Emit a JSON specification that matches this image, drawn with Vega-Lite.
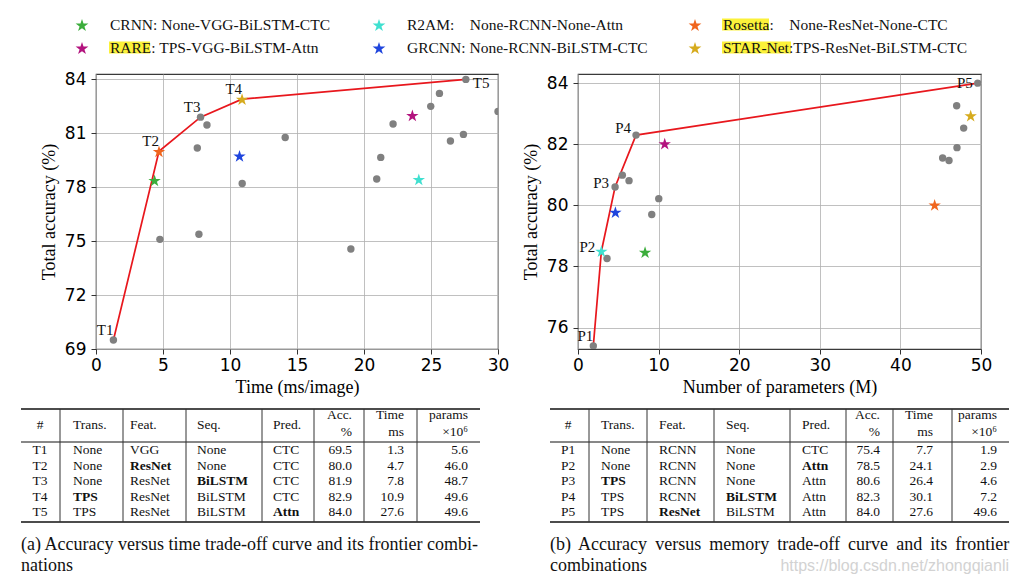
{
"$schema": "https://vega.github.io/schema/vega-lite/v6.json",
"padding": {"left": 20, "top": 8, "right": 7, "bottom": 4},
"background": "white",
"columns": 2,
"align": "none",
"bounds": "flush",
"spacing": {"row": 0, "column": 80},
"config": {
  "view": {"stroke": null},
  "font": "Liberation Serif",
  "axis": {"labelFont": "DejaVu Sans", "labelFontSize": 17, "labelColor": "#000", "titleFont": "Liberation Serif", "titleFontSize": 18, "titleFontWeight": "normal", "titleColor": "#000", "gridColor": "#b0b0b0", "gridWidth": 0.8, "gridOpacity": 1, "domain": false, "tickColor": "#333", "tickSize": 5, "tickWidth": 1, "labelFlush": false, "labelOverlap": false, "labelBound": false},
  "axisX": {"labelPadding": 3, "titlePadding": 5},
  "axisY": {"labelPadding": 5, "titlePadding": 6}
},
"datasets": {
  "lg": [
    {"model": "CRNN", "label": "CRNN: None-VGG-BiLSTM-CTC", "col": 1, "row": 1},
    {"model": "RARE", "label": "RARE: TPS-VGG-BiLSTM-Attn", "col": 1, "row": 2},
    {"model": "R2AM", "label": "R2AM:\u00a0\u00a0\u00a0\u00a0None-RCNN-None-Attn", "col": 2, "row": 1},
    {"model": "GRCNN", "label": "GRCNN: None-RCNN-BiLSTM-CTC", "col": 2, "row": 2},
    {"model": "Rosetta", "label": "Rosetta:\u00a0\u00a0\u00a0\u00a0None-ResNet-None-CTC", "col": 3, "row": 1},
    {"model": "STAR-Net", "label": "STAR-Net:TPS-ResNet-BiLSTM-CTC", "col": 3, "row": 2}
  ],
  "tA": [
    {"id": "T1", "trans": "None", "feat": "VGG", "seq": "None", "pred": "CTC", "acc": 69.5, "time": 1.3, "params": 5.6, "bold": ""},
    {"id": "T2", "trans": "None", "feat": "ResNet", "seq": "None", "pred": "CTC", "acc": 80.0, "time": 4.7, "params": 46.0, "bold": "feat"},
    {"id": "T3", "trans": "None", "feat": "ResNet", "seq": "BiLSTM", "pred": "CTC", "acc": 81.9, "time": 7.8, "params": 48.7, "bold": "seq"},
    {"id": "T4", "trans": "TPS", "feat": "ResNet", "seq": "BiLSTM", "pred": "CTC", "acc": 82.9, "time": 10.9, "params": 49.6, "bold": "trans"},
    {"id": "T5", "trans": "TPS", "feat": "ResNet", "seq": "BiLSTM", "pred": "Attn", "acc": 84.0, "time": 27.6, "params": 49.6, "bold": "pred"}
  ],
  "tB": [
    {"id": "P1", "trans": "None", "feat": "RCNN", "seq": "None", "pred": "CTC", "acc": 75.4, "time": 7.7, "params": 1.9, "bold": ""},
    {"id": "P2", "trans": "None", "feat": "RCNN", "seq": "None", "pred": "Attn", "acc": 78.5, "time": 24.1, "params": 2.9, "bold": "pred"},
    {"id": "P3", "trans": "TPS", "feat": "RCNN", "seq": "None", "pred": "Attn", "acc": 80.6, "time": 26.4, "params": 4.6, "bold": "trans"},
    {"id": "P4", "trans": "TPS", "feat": "RCNN", "seq": "BiLSTM", "pred": "Attn", "acc": 82.3, "time": 30.1, "params": 7.2, "bold": "seq"},
    {"id": "P5", "trans": "TPS", "feat": "ResNet", "seq": "BiLSTM", "pred": "Attn", "acc": 84.0, "time": 27.6, "params": 49.6, "bold": "feat"}
  ],
  "dA": [
    {"time": 1.3, "acc": 69.5}, {"time": 4.77, "acc": 75.1}, {"time": 7.68, "acc": 75.38}, {"time": 7.56, "acc": 80.18},
    {"time": 7.8, "acc": 81.9}, {"time": 8.28, "acc": 81.46}, {"time": 10.91, "acc": 78.21}, {"time": 14.12, "acc": 80.77},
    {"time": 19.02, "acc": 74.56}, {"time": 20.95, "acc": 78.46}, {"time": 21.25, "acc": 79.66}, {"time": 22.17, "acc": 81.52},
    {"time": 24.98, "acc": 82.5}, {"time": 25.63, "acc": 83.22}, {"time": 26.45, "acc": 80.57}, {"time": 27.42, "acc": 80.94},
    {"time": 27.6, "acc": 84.0}, {"time": 30.0, "acc": 82.22}
  ],
  "dB": [
    {"params": 1.9, "acc": 75.4}, {"params": 3.6, "acc": 78.26}, {"params": 4.6, "acc": 80.6}, {"params": 5.5, "acc": 80.99},
    {"params": 6.33, "acc": 80.81}, {"params": 7.2, "acc": 82.3}, {"params": 9.15, "acc": 79.7}, {"params": 10.02, "acc": 80.22},
    {"params": 45.24, "acc": 81.55}, {"params": 46.03, "acc": 81.47}, {"params": 47.02, "acc": 81.89}, {"params": 46.98, "acc": 83.26},
    {"params": 47.85, "acc": 82.53}, {"params": 49.6, "acc": 84.0}
  ],
  "sA": [
    {"model": "CRNN", "time": 4.37, "acc": 78.38}, {"model": "Rosetta", "time": 4.7, "acc": 80.0},
    {"model": "STAR-Net", "time": 10.9, "acc": 82.9}, {"model": "GRCNN", "time": 10.71, "acc": 79.74},
    {"model": "RARE", "time": 23.61, "acc": 82.0}, {"model": "R2AM", "time": 24.09, "acc": 78.44}
  ],
  "sB": [
    {"model": "R2AM", "params": 2.9, "acc": 78.5}, {"model": "GRCNN", "params": 4.64, "acc": 79.78},
    {"model": "CRNN", "params": 8.32, "acc": 78.47}, {"model": "RARE", "params": 10.76, "acc": 82.02},
    {"model": "Rosetta", "params": 44.25, "acc": 80.02}, {"model": "STAR-Net", "params": 48.72, "acc": 82.94}
  ],
  "hdr": [
    {"key": "id", "yi": -2, "t": "#"},
    {"key": "trans", "yi": -2, "t": "Trans."},
    {"key": "feat", "yi": -2, "t": "Feat."},
    {"key": "seq", "yi": -2, "t": "Seq."},
    {"key": "pred", "yi": -2, "t": "Pred."},
    {"key": "acc", "yi": -3, "t": "Acc."},
    {"key": "acc", "yi": -1, "t": "%"},
    {"key": "time", "yi": -3, "t": "Time"},
    {"key": "time", "yi": -1, "t": "ms"},
    {"key": "params", "yi": -3, "t": "params"},
    {"key": "params", "yi": -1, "t": "×10⁶"}
  ],
  "vr": [{"key": "v1"}, {"key": "v2"}, {"key": "v3"}, {"key": "v4"}, {"key": "v5"}, {"key": "v6"}, {"key": "v7"}],
  "hr": [{"yi": -4}, {"yi": 6}],
  "mr": [{"yi": 0}]
},
"concat": [
  {
    "width": 402, "height": 66,
    "data": {"name": "lg"},
    "layer": [
      {"transform": [{"filter": "datum.model == 'RARE'"}],
       "mark": {"type": "rect", "color": "#fbf13a", "xOffset": 27, "x2Offset": 68, "yOffset": -6.5, "y2Offset": 5.5},
       "encoding": {"x": {"field": "col", "type": "quantitative", "scale": {"domain": [1, 2, 3], "range": [-14, 283, 599], "nice": false, "zero": false}, "axis": null}, "x2": {"field": "col"},
                    "y": {"field": "row", "type": "quantitative", "scale": {"domain": [1, 2], "range": [17, 40], "nice": false, "zero": false}, "axis": null}, "y2": {"field": "row"}}},
      {"transform": [{"filter": "datum.model == 'Rosetta'"}],
       "mark": {"type": "rect", "color": "#fbf13a", "xOffset": 27, "x2Offset": 74, "yOffset": -6.5, "y2Offset": 5.5},
       "encoding": {"x": {"field": "col", "type": "quantitative"}, "x2": {"field": "col"}, "y": {"field": "row", "type": "quantitative"}, "y2": {"field": "row"}}},
      {"transform": [{"filter": "datum.model == 'STAR-Net'"}],
       "mark": {"type": "rect", "color": "#fbf13a", "xOffset": 27, "x2Offset": 96, "yOffset": -6.5, "y2Offset": 5.5},
       "encoding": {"x": {"field": "col", "type": "quantitative"}, "x2": {"field": "col"}, "y": {"field": "row", "type": "quantitative"}, "y2": {"field": "row"}}},
      {"mark": {"type": "point", "shape": "M0,-0.905L0.225,-0.214L0.951,-0.214L0.363,0.214L0.588,0.905L0,0.478L-0.588,0.905L-0.363,0.214L-0.951,-0.214L-0.225,-0.214Z", "filled": true, "opacity": 1, "size": 180},
       "encoding": {"x": {"field": "col", "type": "quantitative"}, "y": {"field": "row", "type": "quantitative"},
                    "color": {"field": "model", "type": "nominal", "scale": {"domain": ["CRNN", "RARE", "R2AM", "GRCNN", "Rosetta", "STAR-Net"], "range": ["#3cad3c", "#b3137e", "#40e0d0", "#1f45dd", "#f0651e", "#d6ab1e"]}, "legend": null}}},
      {"mark": {"type": "text", "align": "left", "baseline": "middle", "dx": 28, "fontSize": 15.5, "font": "Liberation Serif", "color": "#111"},
       "encoding": {"x": {"field": "col", "type": "quantitative"}, "y": {"field": "row", "type": "quantitative"}, "text": {"field": "label"}}}
    ]
  },
  {
    "width": 1, "height": 66,
    "data": {"values": [{"a": 1}]},
    "mark": {"type": "point", "opacity": 0}
  },
  {
    "width": 402, "height": 275,
    "view": {"stroke": "#3a3a3a", "strokeWidth": 1.2},
    "layer": [
      {"data": {"name": "tA"}, "mark": {"type": "line", "color": "#e8171d", "strokeWidth": 1.7, "clip": true},
       "encoding": {"x": {"field": "time", "type": "quantitative", "scale": {"domain": [0, 30], "nice": false, "zero": false}, "axis": {"values": [0, 5, 10, 15, 20, 25, 30], "title": "Time (ms/image)"}},
                    "y": {"field": "acc", "type": "quantitative", "scale": {"domain": [69, 84.3], "nice": false, "zero": false}, "axis": {"values": [69, 72, 75, 78, 81, 84], "title": "Total accuracy (%)"}}}},
      {"data": {"name": "dA"}, "mark": {"type": "point", "filled": true, "color": "#808080", "opacity": 1, "size": 55, "clip": true},
       "encoding": {"x": {"field": "time", "type": "quantitative"}, "y": {"field": "acc", "type": "quantitative"}}},
      {"data": {"name": "sA"}, "mark": {"type": "point", "shape": "M0,-0.905L0.225,-0.214L0.951,-0.214L0.363,0.214L0.588,0.905L0,0.478L-0.588,0.905L-0.363,0.214L-0.951,-0.214L-0.225,-0.214Z", "filled": true, "opacity": 1, "size": 170, "clip": true},
       "encoding": {"x": {"field": "time", "type": "quantitative"}, "y": {"field": "acc", "type": "quantitative"},
                    "color": {"field": "model", "type": "nominal", "scale": {"domain": ["CRNN", "RARE", "R2AM", "GRCNN", "Rosetta", "STAR-Net"], "range": ["#3cad3c", "#b3137e", "#40e0d0", "#1f45dd", "#f0651e", "#d6ab1e"]}, "legend": null}}},
      {"data": {"name": "tA"}, "transform": [{"filter": "datum.id != 'T5'"}],
       "mark": {"type": "text", "align": "right", "baseline": "alphabetic", "dx": 0, "dy": -5, "fontSize": 15, "font": "Liberation Serif", "color": "#111"},
       "encoding": {"x": {"field": "time", "type": "quantitative"}, "y": {"field": "acc", "type": "quantitative"}, "text": {"field": "id"}}},
      {"data": {"name": "tA"}, "transform": [{"filter": "datum.id == 'T5'"}],
       "mark": {"type": "text", "align": "left", "baseline": "alphabetic", "dx": 7, "dy": 9, "fontSize": 15, "font": "Liberation Serif", "color": "#111"},
       "encoding": {"x": {"field": "time", "type": "quantitative"}, "y": {"field": "acc", "type": "quantitative"}, "text": {"field": "id"}}}
    ]
  },
  {
    "width": 403, "height": 275,
    "view": {"stroke": "#3a3a3a", "strokeWidth": 1.2},
    "layer": [
      {"data": {"name": "tB"}, "mark": {"type": "line", "color": "#e8171d", "strokeWidth": 1.7, "clip": true},
       "encoding": {"x": {"field": "params", "type": "quantitative", "scale": {"domain": [0, 50], "nice": false, "zero": false}, "axis": {"values": [0, 10, 20, 30, 40, 50], "title": "Number of parameters (M)"}},
                    "y": {"field": "acc", "type": "quantitative", "scale": {"domain": [75.3, 84.3], "nice": false, "zero": false}, "axis": {"values": [76, 78, 80, 82, 84], "title": "Total accuracy (%)"}}}},
      {"data": {"name": "dB"}, "mark": {"type": "point", "filled": true, "color": "#808080", "opacity": 1, "size": 55, "clip": true},
       "encoding": {"x": {"field": "params", "type": "quantitative"}, "y": {"field": "acc", "type": "quantitative"}}},
      {"data": {"name": "sB"}, "mark": {"type": "point", "shape": "M0,-0.905L0.225,-0.214L0.951,-0.214L0.363,0.214L0.588,0.905L0,0.478L-0.588,0.905L-0.363,0.214L-0.951,-0.214L-0.225,-0.214Z", "filled": true, "opacity": 1, "size": 170, "clip": true},
       "encoding": {"x": {"field": "params", "type": "quantitative"}, "y": {"field": "acc", "type": "quantitative"},
                    "color": {"field": "model", "type": "nominal", "scale": {"domain": ["CRNN", "RARE", "R2AM", "GRCNN", "Rosetta", "STAR-Net"], "range": ["#3cad3c", "#b3137e", "#40e0d0", "#1f45dd", "#f0651e", "#d6ab1e"]}, "legend": null}}},
      {"data": {"name": "tB"}, "transform": [{"filter": "datum.id == 'P1'"}],
       "mark": {"type": "text", "align": "right", "baseline": "alphabetic", "dx": 0, "dy": -5, "fontSize": 15, "font": "Liberation Serif", "color": "#111"},
       "encoding": {"x": {"field": "params", "type": "quantitative"}, "y": {"field": "acc", "type": "quantitative"}, "text": {"field": "id"}}},
      {"data": {"name": "tB"}, "transform": [{"filter": "datum.id == 'P2' || datum.id == 'P3'"}],
       "mark": {"type": "text", "align": "right", "baseline": "alphabetic", "dx": -6, "dy": 1, "fontSize": 15, "font": "Liberation Serif", "color": "#111"},
       "encoding": {"x": {"field": "params", "type": "quantitative"}, "y": {"field": "acc", "type": "quantitative"}, "text": {"field": "id"}}},
      {"data": {"name": "tB"}, "transform": [{"filter": "datum.id == 'P4'"}],
       "mark": {"type": "text", "align": "right", "baseline": "alphabetic", "dx": -5, "dy": -2, "fontSize": 15, "font": "Liberation Serif", "color": "#111"},
       "encoding": {"x": {"field": "params", "type": "quantitative"}, "y": {"field": "acc", "type": "quantitative"}, "text": {"field": "id"}}},
      {"data": {"name": "tB"}, "transform": [{"filter": "datum.id == 'P5'"}],
       "mark": {"type": "text", "align": "right", "baseline": "alphabetic", "dx": -5, "dy": 5, "fontSize": 15, "font": "Liberation Serif", "color": "#111"},
       "encoding": {"x": {"field": "params", "type": "quantitative"}, "y": {"field": "acc", "type": "quantitative"}, "text": {"field": "id"}}}
    ]
  },
  {
    "width": 402, "height": 230,
    "layer": [
      {"data": {"name": "hr"}, "mark": {"type": "rule", "color": "#111", "strokeWidth": 1.5},
       "encoding": {"x": {"datum": 0, "type": "quantitative", "scale": {"domain": [0, 1, 2, 3, 4, 5, 6, 7, 8, 9, 10, 11, 12, 13, 14, 15, 16], "range": [-75, -56, -36, -23, 27, 34, 90, 101, 166, 177, 218, 256, 268, 308, 321, 372, 384], "nice": false, "zero": false}, "axis": null},
                    "x2": {"datum": 16},
                    "y": {"field": "yi", "type": "quantitative", "scale": {"domain": [-4, -3, -2, -1, 0, 1, 5, 6, 7, 8], "range": [60, 66, 76, 83, 93, 101, 163, 173, 196, 217], "nice": false, "zero": false}, "axis": null}}},
      {"data": {"name": "mr"}, "mark": {"type": "rule", "color": "#111", "strokeWidth": 1},
       "encoding": {"x": {"datum": 0, "type": "quantitative"}, "x2": {"datum": 16}, "y": {"field": "yi", "type": "quantitative"}}},
      {"data": {"name": "vr"}, "transform": [{"calculate": "indexof(['L','id','v1','trans','v2','feat','v3','seq','v4','pred','v5','acc','v6','time','v7','params','R'], datum.key)", "as": "xi"}],
       "mark": {"type": "rule", "color": "#333", "strokeWidth": 1},
       "encoding": {"x": {"field": "xi", "type": "quantitative"}, "y": {"datum": -4, "type": "quantitative"}, "y2": {"datum": 6}}},
      {"data": {"name": "hdr"}, "transform": [{"filter": "datum.key == 'id'"}, {"calculate": "indexof(['L','id','v1','trans','v2','feat','v3','seq','v4','pred','v5','acc','v6','time','v7','params','R'], datum.key)", "as": "xi"}],
       "mark": {"type": "text", "align": "center", "baseline": "middle", "fontSize": 13.5, "font": "Liberation Serif", "color": "#111"},
       "encoding": {"x": {"field": "xi", "type": "quantitative"}, "y": {"field": "yi", "type": "quantitative"}, "text": {"field": "t"}}},
      {"data": {"name": "hdr"}, "transform": [{"filter": "indexof(['trans','feat','seq','pred'], datum.key) >= 0"}, {"calculate": "indexof(['L','id','v1','trans','v2','feat','v3','seq','v4','pred','v5','acc','v6','time','v7','params','R'], datum.key)", "as": "xi"}],
       "mark": {"type": "text", "align": "left", "baseline": "middle", "fontSize": 13.5, "font": "Liberation Serif", "color": "#111"},
       "encoding": {"x": {"field": "xi", "type": "quantitative"}, "y": {"field": "yi", "type": "quantitative"}, "text": {"field": "t"}}},
      {"data": {"name": "hdr"}, "transform": [{"filter": "indexof(['acc','time','params'], datum.key) >= 0"}, {"calculate": "indexof(['L','id','v1','trans','v2','feat','v3','seq','v4','pred','v5','acc','v6','time','v7','params','R'], datum.key)", "as": "xi"}],
       "mark": {"type": "text", "align": "right", "baseline": "middle", "fontSize": 13.5, "font": "Liberation Serif", "color": "#111"},
       "encoding": {"x": {"field": "xi", "type": "quantitative"}, "y": {"field": "yi", "type": "quantitative"}, "text": {"field": "t"}}},
      {"data": {"name": "tA"}, "transform": [{"window": [{"op": "row_number", "as": "yi"}]}],
       "mark": {"type": "text", "align": "center", "baseline": "middle", "fontSize": 13.5, "font": "Liberation Serif", "color": "#111"},
       "encoding": {"x": {"datum": 1, "type": "quantitative"}, "y": {"field": "yi", "type": "quantitative"}, "text": {"field": "id"}}},
      {"data": {"name": "tA"}, "transform": [{"window": [{"op": "row_number", "as": "yi"}]}, {"fold": ["trans", "feat", "seq", "pred"]}, {"filter": "datum.key != datum.bold"}, {"calculate": "indexof(['L','id','v1','trans','v2','feat','v3','seq','v4','pred','v5','acc','v6','time','v7','params','R'], datum.key)", "as": "xi"}],
       "mark": {"type": "text", "align": "left", "baseline": "middle", "fontSize": 13.5, "font": "Liberation Serif", "color": "#111"},
       "encoding": {"x": {"field": "xi", "type": "quantitative"}, "y": {"field": "yi", "type": "quantitative"}, "text": {"field": "value"}}},
      {"data": {"name": "tA"}, "transform": [{"window": [{"op": "row_number", "as": "yi"}]}, {"fold": ["trans", "feat", "seq", "pred"]}, {"filter": "datum.key == datum.bold"}, {"calculate": "indexof(['L','id','v1','trans','v2','feat','v3','seq','v4','pred','v5','acc','v6','time','v7','params','R'], datum.key)", "as": "xi"}],
       "mark": {"type": "text", "align": "left", "baseline": "middle", "fontSize": 13.5, "font": "Liberation Serif", "fontWeight": "bold", "color": "#111"},
       "encoding": {"x": {"field": "xi", "type": "quantitative"}, "y": {"field": "yi", "type": "quantitative"}, "text": {"field": "value"}}},
      {"data": {"name": "tA"}, "transform": [{"window": [{"op": "row_number", "as": "yi"}]}, {"fold": ["acc", "time", "params"]}, {"calculate": "indexof(['L','id','v1','trans','v2','feat','v3','seq','v4','pred','v5','acc','v6','time','v7','params','R'], datum.key)", "as": "xi"}],
       "mark": {"type": "text", "align": "right", "baseline": "middle", "fontSize": 13.5, "font": "Liberation Serif", "color": "#111"},
       "encoding": {"x": {"field": "xi", "type": "quantitative"}, "y": {"field": "yi", "type": "quantitative"}, "text": {"field": "value", "type": "quantitative", "format": ".1f"}}},
      {"data": {"values": [{"yi": 7, "t": "(a) Accuracy versus time trade-off curve and its frontier combi-"}, {"yi": 8, "t": "nations"}]},
       "mark": {"type": "text", "align": "left", "baseline": "middle", "fontSize": 18, "font": "Liberation Serif", "color": "#111"},
       "encoding": {"x": {"datum": 0, "type": "quantitative"}, "y": {"field": "yi", "type": "quantitative"}, "text": {"field": "t"}}}
    ]
  },
  {
    "width": 431, "height": 230,
    "layer": [
      {"data": {"name": "hr"}, "mark": {"type": "rule", "color": "#111", "strokeWidth": 1.5},
       "encoding": {"x": {"datum": 0, "type": "quantitative", "scale": {"domain": [0, 1, 2, 3, 4, 5, 6, 7, 8, 9, 10, 11, 12, 13, 14, 15, 16], "range": [-28, -10, 11, 23, 69, 81, 136, 148, 212, 224, 268, 302, 315, 355, 374, 419, 431], "nice": false, "zero": false}, "axis": null},
                    "x2": {"datum": 16},
                    "y": {"field": "yi", "type": "quantitative", "scale": {"domain": [-4, -3, -2, -1, 0, 1, 5, 6, 7, 8], "range": [60, 66, 76, 83, 93, 101, 163, 173, 196, 217], "nice": false, "zero": false}, "axis": null}}},
      {"data": {"name": "mr"}, "mark": {"type": "rule", "color": "#111", "strokeWidth": 1},
       "encoding": {"x": {"datum": 0, "type": "quantitative"}, "x2": {"datum": 16}, "y": {"field": "yi", "type": "quantitative"}}},
      {"data": {"name": "vr"}, "transform": [{"calculate": "indexof(['L','id','v1','trans','v2','feat','v3','seq','v4','pred','v5','acc','v6','time','v7','params','R'], datum.key)", "as": "xi"}],
       "mark": {"type": "rule", "color": "#333", "strokeWidth": 1},
       "encoding": {"x": {"field": "xi", "type": "quantitative"}, "y": {"datum": -4, "type": "quantitative"}, "y2": {"datum": 6}}},
      {"data": {"name": "hdr"}, "transform": [{"filter": "datum.key == 'id'"}, {"calculate": "indexof(['L','id','v1','trans','v2','feat','v3','seq','v4','pred','v5','acc','v6','time','v7','params','R'], datum.key)", "as": "xi"}],
       "mark": {"type": "text", "align": "center", "baseline": "middle", "fontSize": 13.5, "font": "Liberation Serif", "color": "#111"},
       "encoding": {"x": {"field": "xi", "type": "quantitative"}, "y": {"field": "yi", "type": "quantitative"}, "text": {"field": "t"}}},
      {"data": {"name": "hdr"}, "transform": [{"filter": "indexof(['trans','feat','seq','pred'], datum.key) >= 0"}, {"calculate": "indexof(['L','id','v1','trans','v2','feat','v3','seq','v4','pred','v5','acc','v6','time','v7','params','R'], datum.key)", "as": "xi"}],
       "mark": {"type": "text", "align": "left", "baseline": "middle", "fontSize": 13.5, "font": "Liberation Serif", "color": "#111"},
       "encoding": {"x": {"field": "xi", "type": "quantitative"}, "y": {"field": "yi", "type": "quantitative"}, "text": {"field": "t"}}},
      {"data": {"name": "hdr"}, "transform": [{"filter": "indexof(['acc','time','params'], datum.key) >= 0"}, {"calculate": "indexof(['L','id','v1','trans','v2','feat','v3','seq','v4','pred','v5','acc','v6','time','v7','params','R'], datum.key)", "as": "xi"}],
       "mark": {"type": "text", "align": "right", "baseline": "middle", "fontSize": 13.5, "font": "Liberation Serif", "color": "#111"},
       "encoding": {"x": {"field": "xi", "type": "quantitative"}, "y": {"field": "yi", "type": "quantitative"}, "text": {"field": "t"}}},
      {"data": {"name": "tB"}, "transform": [{"window": [{"op": "row_number", "as": "yi"}]}],
       "mark": {"type": "text", "align": "center", "baseline": "middle", "fontSize": 13.5, "font": "Liberation Serif", "color": "#111"},
       "encoding": {"x": {"datum": 1, "type": "quantitative"}, "y": {"field": "yi", "type": "quantitative"}, "text": {"field": "id"}}},
      {"data": {"name": "tB"}, "transform": [{"window": [{"op": "row_number", "as": "yi"}]}, {"fold": ["trans", "feat", "seq", "pred"]}, {"filter": "datum.key != datum.bold"}, {"calculate": "indexof(['L','id','v1','trans','v2','feat','v3','seq','v4','pred','v5','acc','v6','time','v7','params','R'], datum.key)", "as": "xi"}],
       "mark": {"type": "text", "align": "left", "baseline": "middle", "fontSize": 13.5, "font": "Liberation Serif", "color": "#111"},
       "encoding": {"x": {"field": "xi", "type": "quantitative"}, "y": {"field": "yi", "type": "quantitative"}, "text": {"field": "value"}}},
      {"data": {"name": "tB"}, "transform": [{"window": [{"op": "row_number", "as": "yi"}]}, {"fold": ["trans", "feat", "seq", "pred"]}, {"filter": "datum.key == datum.bold"}, {"calculate": "indexof(['L','id','v1','trans','v2','feat','v3','seq','v4','pred','v5','acc','v6','time','v7','params','R'], datum.key)", "as": "xi"}],
       "mark": {"type": "text", "align": "left", "baseline": "middle", "fontSize": 13.5, "font": "Liberation Serif", "fontWeight": "bold", "color": "#111"},
       "encoding": {"x": {"field": "xi", "type": "quantitative"}, "y": {"field": "yi", "type": "quantitative"}, "text": {"field": "value"}}},
      {"data": {"name": "tB"}, "transform": [{"window": [{"op": "row_number", "as": "yi"}]}, {"fold": ["acc", "time", "params"]}, {"calculate": "indexof(['L','id','v1','trans','v2','feat','v3','seq','v4','pred','v5','acc','v6','time','v7','params','R'], datum.key)", "as": "xi"}],
       "mark": {"type": "text", "align": "right", "baseline": "middle", "fontSize": 13.5, "font": "Liberation Serif", "color": "#111"},
       "encoding": {"x": {"field": "xi", "type": "quantitative"}, "y": {"field": "yi", "type": "quantitative"}, "text": {"field": "value", "type": "quantitative", "format": ".1f"}}},
      {"data": {"values": [{"yi": 8, "t": "https://blog.csdn.net/zhongqianli"}]},
       "mark": {"type": "text", "align": "right", "baseline": "middle", "fontSize": 16, "font": "Liberation Sans", "color": "#d2d2d2"},
       "encoding": {"x": {"datum": 16, "type": "quantitative"}, "y": {"field": "yi", "type": "quantitative"}, "text": {"field": "t"}}},
      {"data": {"values": [{"yi": 7, "t": "(b)\u2009 Accuracy\u2009 versus\u2009 memory\u2009 trade-off\u2009 curve\u2009 and\u2009 its\u2009 frontier"}, {"yi": 8, "t": "combinations"}]},
       "mark": {"type": "text", "align": "left", "baseline": "middle", "fontSize": 18, "font": "Liberation Serif", "color": "#111"},
       "encoding": {"x": {"datum": 0, "type": "quantitative"}, "y": {"field": "yi", "type": "quantitative"}, "text": {"field": "t"}}}
    ]
  }
]
}
